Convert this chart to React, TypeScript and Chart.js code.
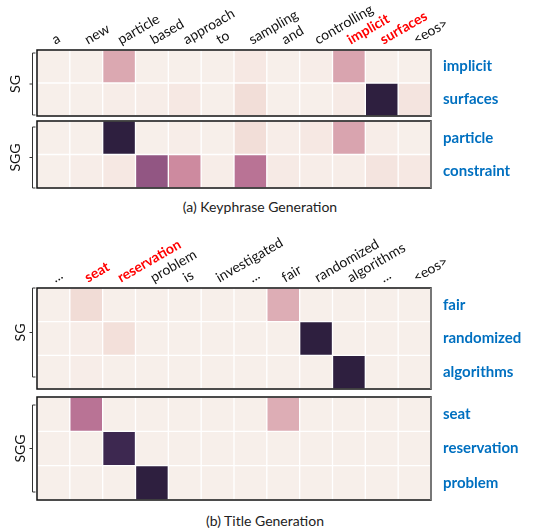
import React, { useEffect, useRef } from "react";
import { Chart, registerables } from "chart.js";
Chart.register(...registerables);

// ---------- data ----------
const colsA = ["a", "new", "particle", "based", "approach", "to", "sampling", "and", "controlling", "implicit", "surfaces", "<eos>"];
const redA = ["implicit", "surfaces"];
const rowsA_SG = ["implicit", "surfaces"];
const valsA_SG = [
  [0.01, 0.01, 0.3, 0.01, 0.01, 0.01, 0.04, 0.01, 0.02, 0.32, 0.01, 0.01],
  [0.01, 0.01, 0.02, 0.02, 0.04, 0.01, 0.09, 0.01, 0.01, 0.03, 1.0, 0.06],
];
const rowsA_SGG = ["particle", "constraint"];
const valsA_SGG = [
  [0.01, 0.01, 1.0, 0.01, 0.02, 0.01, 0.09, 0.02, 0.04, 0.32, 0.02, 0.01],
  [0.01, 0.02, 0.04, 0.7, 0.45, 0.02, 0.55, 0.03, 0.02, 0.02, 0.06, 0.04],
];

const colsB = ["...", "seat", "reservation", "problem", "is", "investigated", "...", "fair", "randomized", "algorithms", "...", "<eos>"];
const redB = ["seat", "reservation"];
const rowsB_SG = ["fair", "randomized", "algorithms"];
const valsB_SG = [
  [0.01, 0.1, 0.01, 0.01, 0.01, 0.01, 0.01, 0.28, 0.01, 0.01, 0.01, 0.01],
  [0.01, 0.02, 0.08, 0.01, 0.01, 0.01, 0.01, 0.01, 1.0, 0.01, 0.01, 0.01],
  [0.01, 0.02, 0.01, 0.01, 0.01, 0.01, 0.01, 0.01, 0.01, 1.0, 0.01, 0.01],
];
const rowsB_SGG = ["seat", "reservation", "problem"];
const valsB_SGG = [
  [0.01, 0.55, 0.01, 0.01, 0.01, 0.01, 0.01, 0.28, 0.01, 0.01, 0.01, 0.01],
  [0.01, 0.01, 0.92, 0.01, 0.01, 0.01, 0.01, 0.01, 0.01, 0.01, 0.01, 0.01],
  [0.01, 0.01, 0.01, 1.0, 0.01, 0.01, 0.01, 0.01, 0.01, 0.01, 0.01, 0.01],
];

// ---------- colour map ----------
const stops: [number, string][] = [
  [0.0, "#f8f1ec"],
  [0.05, "#f5e6e1"],
  [0.1, "#f1dcd6"],
  [0.3, "#dba8b1"],
  [0.45, "#cd8a9f"],
  [0.55, "#b97395"],
  [0.7, "#925683"],
  [0.85, "#4a3058"],
  [0.92, "#3d2850"],
  [1.0, "#2e1f3f"],
];
function hex(h: string) {
  return [1, 3, 5].map((i) => parseInt(h.slice(i, i + 2), 16));
}
function colorFor(v: number) {
  for (let i = 1; i < stops.length; i++) {
    if (v <= stops[i][0]) {
      const [a, ca] = stops[i - 1];
      const [b, cb] = stops[i];
      const t = (v - a) / (b - a);
      const x = hex(ca), y = hex(cb);
      const c = x.map((q, k) => Math.round(q + (y[k] - q) * t));
      return `rgb(${c[0]},${c[1]},${c[2]})`;
    }
  }
  return stops[stops.length - 1][1];
}

const FONT = "Lato, 'Open Sans', sans-serif";
const BLUE = "#0070c0";

const framePlugin = {
  id: "frame",
  afterDraw(chart: any, _args: any, opts: any) {
    const { ctx, chartArea: a } = chart;
    ctx.save();
    ctx.strokeStyle = "#111";
    ctx.lineWidth = 1.5;
    ctx.strokeRect(a.left, a.top, a.right - a.left, a.bottom - a.top);
    ctx.strokeStyle = "#777";
    ctx.lineWidth = 2;
    ctx.beginPath();
    ctx.moveTo(a.right, a.top);
    ctx.lineTo(a.right, a.bottom);
    ctx.stroke();
    // bracket
    const bx = 32.5;
    const y0 = a.top + opts.b0;
    const y1 = a.bottom - opts.b1;
    const ym = (y0 + y1) / 2;
    ctx.strokeStyle = "#333";
    ctx.lineWidth = 1;
    ctx.beginPath();
    ctx.moveTo(bx + 3, y0);
    ctx.lineTo(bx, y0);
    ctx.lineTo(bx, y1);
    ctx.lineTo(bx + 3, y1);
    ctx.moveTo(bx, ym);
    ctx.lineTo(bx - 3, ym);
    ctx.stroke();
    ctx.translate(opts.lx, ym);
    ctx.rotate(-Math.PI / 2);
    ctx.fillStyle = "#111";
    ctx.font = `14px ${FONT}`;
    ctx.textAlign = "center";
    ctx.textBaseline = "middle";
    ctx.fillText(opts.group, 0, 0);
    ctx.restore();
  },
};

type PanelProps = {
  cols: string[];
  red: string[];
  rows: string[];
  vals: number[][];
  group: string;
  showTop: boolean;
  top: number;
  height: number;
  axisH: number;
  padTop: number;
  padBottom: number;
  b0: number;
  b1: number;
  lx: number;
};

function Panel(p: PanelProps) {
  const ref = useRef<HTMLCanvasElement>(null);
  useEffect(() => {
    const chart = new Chart(ref.current as HTMLCanvasElement, {
      type: "bar",
      data: {
        labels: p.cols,
        datasets: p.rows.map((r, i) => ({
          label: r,
          data: p.cols.map(() => [i, i + 1]) as any,
          backgroundColor: p.vals[i].map(colorFor),
          borderColor: "#ffffff",
          borderWidth: 1,
          borderSkipped: false,
          grouped: false,
          barPercentage: 1,
          categoryPercentage: 1,
        })),
      },
      options: {
        responsive: false,
        animation: false,
        layout: { autoPadding: false, padding: { left: 37, right: 0, top: p.padTop, bottom: p.padBottom } },
        plugins: {
          legend: { display: false },
          tooltip: { enabled: false },
          frame: { b0: p.b0, b1: p.b1, lx: p.lx, group: p.group },
        } as any,
        scales: {
          x: {
            type: "category",
            position: "top",
            display: p.showTop,
            grid: { display: false, drawTicks: false },
            border: { display: false },
            ticks: {
              autoSkip: false,
              minRotation: 30,
              maxRotation: 30,
              padding: 2,
              labelOffset: 8,
              color: (c: any) => (p.red.includes(p.cols[c.index]) ? "#ff0000" : "#111"),
              font: (c: any) => ({
                family: FONT,
                size: 14,
                weight: p.red.includes(p.cols[c.index]) ? "bold" : "normal",
              }),
            },
            afterFit: (s: any) => {
              s.height = p.axisH;
              s.paddingLeft = 0;
              s.paddingRight = 0;
            },
          },
          y: {
            type: "linear",
            position: "right",
            min: 0,
            max: p.rows.length,
            reverse: true,
            grid: { display: false, drawTicks: false },
            border: { display: false },
            afterBuildTicks: (s: any) => {
              s.ticks = p.rows.map((_, i) => ({ value: i + 0.5 }));
            },
            ticks: {
              padding: 12,
              color: BLUE,
              font: { family: FONT, size: 15, weight: "bold" },
              callback: (_v: any, i: number) => p.rows[i],
            },
            afterFit: (s: any) => {
              s.width = 112;
              s.paddingTop = 0;
              s.paddingBottom = 0;
            },
          },
        },
      },
      plugins: [framePlugin],
    } as any);
    return () => chart.destroy();
  }, []);
  return (
    <canvas
      ref={ref}
      width={543}
      height={p.height}
      style={{ position: "absolute", left: 0, top: p.top, width: 543, height: p.height }}
    />
  );
}

const captionStyle: React.CSSProperties = {
  position: "absolute",
  left: 0,
  width: 520,
  textAlign: "center",
  fontFamily: FONT,
  fontSize: 14,
  color: "#222",
  lineHeight: "16px",
};

export default function App() {
  return (
    <div style={{ position: "absolute", left: 0, top: 0, width: 543, height: 529, background: "#fff", overflow: "hidden" }}>
      <Panel cols={colsA} red={redA} rows={rowsA_SG} vals={valsA_SG} group="SG" showTop top={0} height={118} axisH={50} padTop={0} padBottom={2} b0={3} b1={1} lx={15} />
      <Panel cols={colsA} red={redA} rows={rowsA_SGG} vals={valsA_SGG} group="SGG" showTop={false} top={119} height={71} padTop={2} padBottom={2} axisH={0} b0={6} b1={0} lx={15} />
      <div style={{ ...captionStyle, top: 199 }}>(a) Keyphrase Generation</div>
      <Panel cols={colsB} red={redB} rows={rowsB_SG} vals={valsB_SG} group="SG" showTop top={228} height={163} axisH={60} padTop={0} padBottom={2} b0={0} b1={12} lx={20} />
      <Panel cols={colsB} red={redB} rows={rowsB_SGG} vals={valsB_SGG} group="SGG" showTop={false} top={395} height={107} padTop={2} padBottom={2} axisH={0} b0={8} b1={8} lx={20} />
      <div style={{ ...captionStyle, top: 513, left: 5 }}>(b) Title Generation</div>
    </div>
  );
}
